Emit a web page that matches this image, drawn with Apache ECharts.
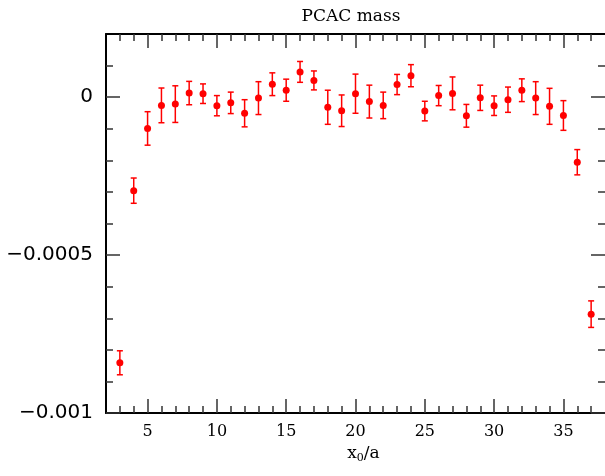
<!DOCTYPE html>
<html>
<head>
<meta charset="utf-8">
<style>html,body{margin:0;padding:0;background:#fff;overflow:hidden}#c{width:605px;height:476px}</style>
<script src="https://cdn.jsdelivr.net/npm/echarts@6/dist/echarts.min.js"></script>
</head>
<body>
<div id="c"></div>
<script>
// data
const xs   = [3, 4, 5, 6, 7, 8, 9, 10, 11, 12, 13, 14, 15, 16, 17, 18, 19, 20, 21, 22, 23, 24, 25, 26, 27, 28, 29, 30, 31, 32, 33, 34, 35, 36, 37];
const ys   = [-0.000841, -0.000296, -0.000099, -0.000026, -0.000022, 0.000013, 0.000011, -0.000027, -0.000018, -0.000051, -0.000003, 0.000041,
              0.000022, 0.000080, 0.000053, -0.000032, -0.000043, 0.000011, -0.000014, -0.000026, 0.000040, 0.000068, -0.000044, 0.000005,
              0.000012, -0.000059, -0.000002, -0.000027, -0.000008, 0.000022, -0.000003, -0.000029, -0.000058, -0.000206, -0.000687];
const errs = [0.000038, 0.000040, 0.000053, 0.000055, 0.000058, 0.000037, 0.000031, 0.000032, 0.000034, 0.000043, 0.000052, 0.000036,
              0.000035, 0.000033, 0.000030, 0.000054, 0.000050, 0.000062, 0.000052, 0.000042, 0.000032, 0.000035, 0.000031, 0.000032,
              0.000052, 0.000036, 0.000040, 0.000031, 0.000040, 0.000036, 0.000052, 0.000057, 0.000047, 0.000040, 0.000042];
const xMajorTicks = [5, 10, 15, 20, 25, 30, 35];
const xMinorTicks = [3, 4, 5, 6, 7, 8, 9, 10, 11, 12, 13, 14, 15, 16, 17, 18, 19, 20, 21, 22, 23, 24, 25, 26, 27, 28, 29, 30, 31, 32, 33, 34, 35, 36, 37];
const yMajorTicks = [-0.001, -0.0005, 0];
const yMinorTicks = [-0.0009, -0.0008, -0.0007, -0.0006, -0.0005, -0.0004, -0.0003, -0.0002, -0.0001, 0, 0.0001];
const yTickLabels = {'-0.001': '\u22120.001', '-0.0005': '\u22120.0005', '0': '0'};
const title = 'PCAC mass';

const XMIN = 2, XMAX = 38, YMIN = -0.001, YMAX = 0.0002;
const tickStyle = {color: '#333', width: 1.5};
const serif = 'DejaVu Serif';

function xAx(pos, major, withLabels) {
  const a = {
    type: 'value', min: XMIN, max: XMAX, position: pos,
    axisLine: {show: major, onZero: false, lineStyle: {color: '#000', width: 2}},
    axisTick: {show: true, inside: true, length: major ? 14 : 7, customValues: major ? xMajorTicks : xMinorTicks, lineStyle: tickStyle},
    axisLabel: {show: withLabels, customValues: xMajorTicks, fontFamily: serif, fontSize: 16, color: '#000', margin: 11},
    splitLine: {show: false}
  };
  if (withLabels) {
    a.name = '{i|x}{s|0}{i|/a}';
    a.nameLocation = 'middle';
    a.nameGap = 25;
    a.nameTextStyle = {
      padding: [0, 0, 0, 16],
      rich: {
        i: {fontFamily: serif, fontSize: 17, color: '#000'},
        s: {fontFamily: serif, fontSize: 11, color: '#000', padding: [9, 0, 0, 0]}
      }
    };
  }
  return a;
}
function yAx(pos, major, withLabels) {
  return {
    type: 'value', min: YMIN, max: YMAX, position: pos,
    axisLine: {show: major && pos === 'left', onZero: false, lineStyle: {color: '#000', width: 2}},
    axisTick: {show: true, inside: true, length: major ? 14 : 7, customValues: major ? yMajorTicks : yMinorTicks, lineStyle: tickStyle},
    axisLabel: {show: withLabels, customValues: yMajorTicks, fontFamily: 'DejaVu Sans', fontSize: 20, color: '#000', margin: 13,
      formatter: v => yTickLabels[String(Math.round(v * 1e6) / 1e6)] ?? String(v)},
    splitLine: {show: false}
  };
}

const chart = echarts.init(document.getElementById('c'), null, {renderer: 'canvas'});
chart.setOption({
  animation: false,
  backgroundColor: '#fff',
  title: {text: title, left: 346, top: 3, textAlign: 'center',
    textStyle: {fontFamily: serif, fontSize: 17, fontWeight: 'normal', color: '#000'}},
  grid: {left: 106, width: 501, top: 34, height: 379, containLabel: false},
  xAxis: [xAx('bottom', true, true), xAx('bottom', false, false), xAx('top', true, false), xAx('top', false, false)],
  yAxis: [yAx('left', true, true), yAx('left', false, false), yAx('right', true, false), yAx('right', false, false)],
  series: [
    {
      type: 'custom', xAxisIndex: 0, yAxisIndex: 0,
      data: xs.map((x, i) => [x, ys[i], errs[i]]),
      renderItem: function (params, api) {
        const x = api.value(0), y = api.value(1), e = api.value(2);
        const t = api.coord([x, y + e]);
        const b = api.coord([x, y - e]);
        const c = 3;
        const st = {stroke: '#ff0000', lineWidth: 1.5};
        return {type: 'group', children: [
          {type: 'line', shape: {x1: t[0], y1: t[1], x2: b[0], y2: b[1]}, style: st},
          {type: 'line', shape: {x1: t[0] - c, y1: t[1], x2: t[0] + c, y2: t[1]}, style: st},
          {type: 'line', shape: {x1: b[0] - c, y1: b[1], x2: b[0] + c, y2: b[1]}, style: st}
        ]};
      },
      silent: true
    },
    {
      type: 'scatter', xAxisIndex: 0, yAxisIndex: 0,
      data: xs.map((x, i) => [x, ys[i]]),
      symbol: 'circle', symbolSize: 7,
      itemStyle: {color: '#ff0000', opacity: 1}
    }
  ]
});
</script>
</body>
</html>
